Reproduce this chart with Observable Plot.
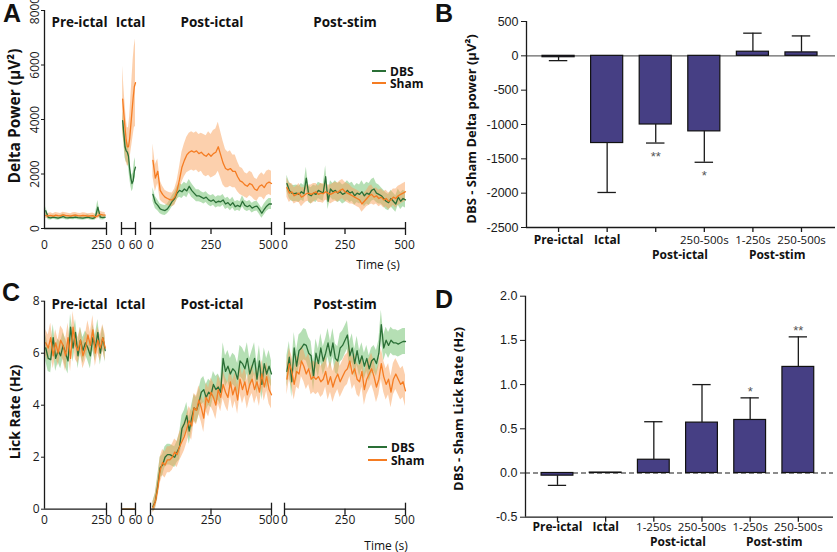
<!DOCTYPE html>
<html><head><meta charset="utf-8">
<script src="https://cdn.jsdelivr.net/npm/d3@7"></script>
<script src="https://cdn.jsdelivr.net/npm/@observablehq/plot@0.6"></script>
<style>
body{margin:0;background:#fff;}
#root{position:relative;width:837px;height:552px;overflow:hidden;background:#fff;font-family:"Open Sans",sans-serif;color:#111;}
</style></head><body><div id="root"></div>
<script>
// ---------- DATA ----------
const T_PRE = d3.range(5, 250, 10);     // s
const T_ICTAL = d3.range(5, 61, 5);     // s
const T_POST = d3.range(10, 501, 10);   // s

// Panel A: delta power (µV²)
const A_PRE_DBS = [650,410,390,420,400,380,410,440,400,390,410,400,420,400,390,380,400,420,390,370,410,780,420,400,420];
const A_PRE_DBS_SEM = [150,90,80,80,80,80,80,90,80,80,80,80,90,80,80,80,80,90,80,80,100,250,100,90,90];
const A_PRE_SHAM = [470,460,480,450,490,470,460,500,480,470,450,480,490,470,460,480,470,450,460,470,430,460,520,500,490];
const A_PRE_SHAM_SEM = [100,90,100,90,100,100,90,100,100,90,90,100,100,90,90,100,100,90,90,100,90,100,110,100,100];

const A_ICTAL_DBS = [3960,3500,3000,2850,2800,2650,2200,1850,1650,1750,2100,2250];
const A_ICTAL_DBS_SEM = [350,350,400,400,400,400,350,300,300,300,350,350];
const A_ICTAL_SHAM = [4750,4200,3700,3250,3000,3000,3300,3800,4300,4800,5200,5350];
const A_ICTAL_SHAM_SEM = [1200,1000,900,800,700,700,800,1000,1200,1400,1500,1600];

const A_POST_DBS = [1250,950,850,720,680,660,720,850,1000,1100,1300,1400,1350,1450,1380,1550,1400,1300,1200,1200,1150,1100,1150,1050,1000,1050,950,1000,980,1050,900,950,850,950,800,850,800,1000,850,800,850,750,800,820,700,560,700,820,900,900];
const A_POST_DBS_SEM = [250,220,200,180,180,180,180,200,200,220,230,250,250,250,250,250,250,230,220,220,200,200,200,200,200,200,200,200,200,200,200,200,200,200,180,180,180,200,180,180,180,180,180,180,180,180,200,200,200,200];
const A_POST_SHAM = [2500,1850,2100,1400,1250,1150,1100,1060,1050,1150,1400,1800,2250,2500,2700,2800,2850,2800,2850,2750,2800,2700,2650,2750,2650,2750,2800,3000,2700,2400,2200,2150,2200,2100,2100,1900,1750,1700,1600,1550,1650,1600,1450,1400,1550,1600,1500,1650,1700,1650];
const A_POST_SHAM_SEM = [600,500,450,350,300,250,250,250,250,300,350,450,550,600,650,700,700,700,700,700,700,750,750,800,800,850,850,900,850,800,700,650,650,600,600,550,500,500,450,450,450,450,400,400,400,450,450,450,450,450];

const A_STIM_DBS = [1650,1400,1300,1280,1300,1250,1350,1280,1850,1250,1200,1300,1250,1400,1350,1300,1900,1000,1450,1350,1400,1300,1350,1250,1300,1400,1300,1350,1200,1300,1250,1350,1200,1300,1250,1400,1450,1300,1250,1200,1100,1000,950,1100,1000,900,1150,1000,1100,1050];
const A_STIM_DBS_SEM = [300,300,300,300,300,300,300,300,400,300,300,300,300,300,300,300,400,300,300,300,350,350,350,350,350,350,350,350,350,350,350,400,400,400,400,400,400,350,350,300,300,300,300,300,300,300,300,300,300,300];
const A_STIM_SHAM = [1500,1300,1350,1200,1250,1300,1150,1200,1280,1300,1250,1300,1350,1250,1300,1280,1350,1300,1250,1300,1350,1320,1400,1450,1350,1300,1250,1200,1150,1100,1050,900,1000,1100,1200,1250,1150,1200,1100,1150,1050,1100,1000,1050,1150,1100,1200,1250,1300,1350];
const A_STIM_SHAM_SEM = [350,350,300,300,300,350,350,300,300,300,350,350,300,300,350,350,300,300,350,350,350,350,350,350,350,350,350,300,300,300,300,300,300,300,350,350,300,300,300,300,300,300,300,300,300,350,350,350,350,350];

// Panel C: lick rate (Hz)
const C_PRE_DBS = [6.2,5.8,5.75,6.6,5.8,6.1,5.9,6.3,6.0,5.7,7.0,6.2,6.8,5.9,6.5,6.1,6.4,6.2,5.9,6.6,6.2,6.8,6.0,6.6,6.1];
const C_PRE_DBS_SEM = [0.5,0.5,0.5,0.5,0.5,0.45,0.5,0.5,0.55,0.5,0.5,0.55,0.5,0.5,0.5,0.5,0.45,0.5,0.5,0.5,0.5,0.5,0.45,0.45,0.45];
const C_PRE_SHAM = [6.4,6.2,6.6,5.9,6.4,6.0,6.5,6.3,5.9,6.6,5.8,7.0,6.3,6.1,6.5,5.9,6.2,6.7,6.3,6.9,6.0,6.5,6.2,6.6,6.2];
const C_PRE_SHAM_SEM = [0.5,0.5,0.55,0.5,0.5,0.5,0.55,0.6,0.6,0.55,0.5,0.6,0.55,0.5,0.5,0.5,0.5,0.55,0.5,0.55,0.5,0.5,0.5,0.5,0.5];

const C_ICTAL_DBS = [0,0,0,0,0,0,0,0,0,0,0,0];
const C_ICTAL_DBS_SEM = [0,0,0,0,0,0,0,0,0,0,0,0];
const C_ICTAL_SHAM = [0,0,0,0,0,0,0,0,0,0,0,0];
const C_ICTAL_SHAM_SEM = [0,0,0,0,0,0,0,0,0,0,0,0];

const C_POST_DBS = [0.1,0.3,0.9,1.6,1.7,2.0,2.1,2.1,2.05,2.0,2.2,2.4,3.1,3.3,3.6,3.0,3.5,3.9,3.8,4.1,4.5,4.6,4.3,4.5,4.4,4.8,4.6,4.7,4.5,5.8,5.3,5.5,5.2,5.4,5.3,5.0,5.7,5.6,5.4,5.8,5.2,5.5,5.8,5.0,5.7,4.8,5.6,5.2,5.5,5.2];
const C_POST_DBS_SEM = [0.2,0.3,0.4,0.4,0.4,0.4,0.4,0.4,0.4,0.4,0.4,0.5,0.5,0.5,0.5,0.5,0.5,0.5,0.5,0.5,0.5,0.5,0.5,0.5,0.5,0.5,0.5,0.5,0.5,0.6,0.6,0.6,0.6,0.6,0.6,0.6,0.6,0.6,0.6,0.6,0.6,0.6,0.6,0.6,0.6,0.6,0.6,0.6,0.6,0.5];
const C_POST_SHAM = [0.05,0.3,0.8,1.5,1.8,1.7,1.9,1.9,2.0,2.2,2.1,2.4,2.6,2.8,3.1,3.4,3.2,3.9,3.8,4.2,3.9,3.5,4.3,4.1,4.5,4.3,4.0,4.6,4.3,4.8,4.5,4.3,4.9,4.4,4.7,4.2,5.0,4.6,4.9,4.4,4.8,5.0,4.6,4.9,4.5,5.2,4.7,5.1,4.6,4.4];
const C_POST_SHAM_SEM = [0.2,0.3,0.4,0.5,0.5,0.5,0.5,0.5,0.5,0.5,0.5,0.55,0.55,0.55,0.55,0.55,0.55,0.55,0.55,0.55,0.55,0.55,0.55,0.55,0.55,0.55,0.55,0.55,0.55,0.55,0.55,0.55,0.55,0.55,0.55,0.55,0.55,0.55,0.55,0.55,0.55,0.55,0.55,0.55,0.55,0.55,0.55,0.55,0.55,0.55];

const C_STIM_DBS = [5.3,5.85,4.9,6.2,5.5,6.1,6.2,6.35,6.3,6.0,5.9,5.1,6.0,5.6,6.2,5.7,6.0,6.4,5.9,6.4,5.8,5.7,6.2,6.3,6.5,6.7,5.9,6.2,5.6,6.1,5.6,5.9,5.5,5.8,5.4,5.7,5.8,5.6,6.0,7.1,6.2,6.5,6.3,6.5,6.4,6.4,6.35,6.4,6.45,6.45];
const C_STIM_DBS_SEM = [0.6,0.6,0.6,0.6,0.6,0.6,0.6,0.6,0.6,0.6,0.55,0.55,0.55,0.55,0.55,0.55,0.55,0.55,0.55,0.55,0.55,0.55,0.55,0.55,0.55,0.55,0.55,0.55,0.55,0.55,0.5,0.5,0.5,0.5,0.5,0.5,0.5,0.5,0.5,0.55,0.5,0.5,0.5,0.5,0.5,0.5,0.5,0.5,0.5,0.5];
const C_STIM_SHAM = [5.0,5.6,5.3,4.8,5.3,5.2,5.7,5.5,5.2,5.4,5.0,5.1,5.0,5.1,4.9,5.0,5.3,4.8,5.1,4.7,5.0,5.2,4.9,5.1,5.3,5.4,5.7,5.2,5.4,5.0,4.9,5.3,4.6,5.0,5.2,5.4,5.1,4.7,5.0,5.6,5.1,4.8,5.0,4.5,5.0,5.2,5.0,4.8,4.9,4.55];
const C_STIM_SHAM_SEM = [0.6,0.6,0.6,0.6,0.6,0.6,0.6,0.6,0.6,0.6,0.6,0.6,0.6,0.6,0.6,0.6,0.6,0.6,0.6,0.6,0.6,0.6,0.6,0.6,0.6,0.6,0.6,0.6,0.6,0.6,0.6,0.6,0.6,0.6,0.6,0.6,0.6,0.6,0.6,0.6,0.6,0.6,0.6,0.6,0.6,0.6,0.6,0.6,0.6,0.6];

// Panel B / D bar data
const BAR_LABELS_B = ["Pre-ictal","Ictal","","250-500s","1-250s","250-500s"];
const BAR_LABELS_D = ["Pre-ictal","Ictal","1-250s","250-500s","1-250s","250-500s"];
const BAR_BOLD = [true,true,false,false,false,false];
const GROUP_LABELS = ["Post-ictal","Post-stim"];
const B_VALUES = [-20,-1270,-1000,-1100,60,50];
const B_ERRORS = [50,720,270,450,270,240];
const B_STARS = ["","","**","*","",""];
const B_TICKS = [-2500,-2000,-1500,-1000,-500,0,500];
const D_VALUES = [-0.03,0.005,0.15,0.57,0.60,1.2];
const D_ERRORS = [0.11,0,0.43,0.43,0.25,0.34];
const D_STARS = ["","","","","*","**"];
const D_TICKS = [-0.5,0,0.5,1.0,1.5,2.0];
const A_TICKS = [0,2000,4000,6000,8000];
const C_TICKS = [0,2,4,6,8];

// ---------- STYLE ----------
const DBS_LINE = "#2a6f36", SHAM_LINE = "#f57c22";
const DBS_BAND = "#6cc06a", SHAM_BAND = "#f9a25c";
const BAR_FILL = "#463f84";
const INK = "#1a1a1a";

const root = document.getElementById("root");
function addText(txt, cx, cy, css, rotate) {
  const d = document.createElement("div");
  d.textContent = txt;
  d.style.cssText = `position:absolute;left:${cx}px;top:${cy}px;white-space:nowrap;line-height:1;transform:translate(-50%,-50%)${rotate ? " rotate(-90deg)" : ""};${css}`;
  root.appendChild(d);
}
function addLegend(x0, x1, yD, yS, tx, size) {
  [[yD, DBS_LINE, "DBS"], [yS, SHAM_LINE, "Sham"]].forEach(([y, c, t]) => {
    const l = document.createElement("div");
    l.style.cssText = `position:absolute;left:${x0}px;top:${Math.round(y) - 1}px;width:${x1 - x0}px;height:2px;background:${c};`;
    root.appendChild(l);
    const s = document.createElement("div");
    s.textContent = t;
    s.style.cssText = `position:absolute;left:${tx}px;top:${y}px;transform:translateY(-50%);line-height:0.85;font:bold ${size}px 'Open Sans';white-space:nowrap;`;
    root.appendChild(s);
  });
}

// layout of the four broken-axis segments (pixel extents, label nudges)
const SEGS = [
  {key: "PRE", title: "Pre-ictal", domain: [0, 250], px: [44, 106], labels: [0, 250], caps: [250], mids: [], dx: 4, lastDx: -5, t: T_PRE},
  {key: "ICTAL", title: "Ictal", domain: [0, 60], px: [121, 135], labels: [0, 60], caps: [0, 60], mids: [], dx: 2, lastDx: 0, t: T_ICTAL},
  {key: "POST", title: "Post-ictal", domain: [0, 500], px: [150, 271], labels: [0, 250, 500], caps: [0, 500], mids: [250], dx: 1, lastDx: -2.5, t: T_POST},
  {key: "STIM", title: "Post-stim", domain: [0, 500], px: [284, 405], labels: [0, 250, 500], caps: [0, 500], mids: [250], dx: 0, lastDx: -1, t: T_POST}
];
const SERIES = {
  A: {PRE: [A_PRE_DBS, A_PRE_DBS_SEM, A_PRE_SHAM, A_PRE_SHAM_SEM], ICTAL: [A_ICTAL_DBS, A_ICTAL_DBS_SEM, A_ICTAL_SHAM, A_ICTAL_SHAM_SEM], POST: [A_POST_DBS, A_POST_DBS_SEM, A_POST_SHAM, A_POST_SHAM_SEM], STIM: [A_STIM_DBS, A_STIM_DBS_SEM, A_STIM_SHAM, A_STIM_SHAM_SEM]},
  C: {PRE: [C_PRE_DBS, C_PRE_DBS_SEM, C_PRE_SHAM, C_PRE_SHAM_SEM], ICTAL: [C_ICTAL_DBS, C_ICTAL_DBS_SEM, C_ICTAL_SHAM, C_ICTAL_SHAM_SEM], POST: [C_POST_DBS, C_POST_DBS_SEM, C_POST_SHAM, C_POST_SHAM_SEM], STIM: [C_STIM_DBS, C_STIM_DBS_SEM, C_STIM_SHAM, C_STIM_SHAM_SEM]}
};

function timePanel(cfg) {
  const W = 420;
  SEGS.forEach((seg, k) => {
    const [dbs, dbsS, sham, shamS] = SERIES[cfg.key][seg.key];
    const rd = seg.t.map((t, i) => ({t, v: dbs[i], s: dbsS[i]}));
    const rs = seg.t.map((t, i) => ({t, v: sham[i], s: shamS[i]}));
    const y0 = cfg.yDomain[0];
    const lastLabel = seg.labels[seg.labels.length - 1];
    const labelOpts = {x: d => d, text: d => String(d), frameAnchor: "bottom", lineAnchor: "top", dy: cfg.xPad, fontSize: 12, fill: INK};
    const marks = [
      Plot.areaY(rd, {x: "t", y1: d => d.v - d.s, y2: d => d.v + d.s, fill: DBS_BAND, fillOpacity: 0.5}),
      Plot.areaY(rs, {x: "t", y1: d => d.v - d.s, y2: d => d.v + d.s, fill: SHAM_BAND, fillOpacity: 0.5}),
      Plot.line(rd, {x: "t", y: "v", stroke: DBS_LINE, strokeWidth: 1.3}),
      Plot.line(rs, {x: "t", y: "v", stroke: SHAM_LINE, strokeWidth: 1.3}),
      Plot.ruleY([y0], {stroke: INK, strokeWidth: 1.3}),
      Plot.ruleX(seg.caps, {x: d => d, y1: y0, y2: y0, insetTop: -6, insetBottom: -7, stroke: INK, strokeWidth: 1.3}),
      Plot.ruleX(seg.mids, {x: d => d, y1: y0, y2: y0, insetTop: 0, insetBottom: -6, stroke: INK, strokeWidth: 1.3}),
      Plot.text(seg.labels.filter(d => d !== lastLabel), labelOpts),
      Plot.text([lastLabel], {...labelOpts, dx: seg.lastDx}),
      Plot.text([seg.title], {frameAnchor: "top", dy: cfg.titleDy, dx: seg.dx, text: d => d, fontWeight: "bold", fontSize: 13.5, fill: "#111"})
    ];
    if (k === 0) {
      marks.push(Plot.ruleX([seg.domain[0]], {stroke: INK, strokeWidth: 1.3}));
      marks.push(Plot.axisY({ticks: cfg.yTicks, tickSize: 3, tickPadding: cfg.yPad, tickRotate: cfg.yRotate, tickFormat: d => String(d), label: null, fill: INK, stroke: INK, fontSize: 12}));
    }
    const svg = Plot.plot({
      width: W, height: cfg.height,
      marginLeft: seg.px[0], marginRight: W - seg.px[1],
      marginTop: cfg.mTop, marginBottom: cfg.mBottom,
      x: {domain: seg.domain, axis: null},
      y: {domain: cfg.yDomain, axis: null},
      style: `position:absolute;left:0;top:${cfg.top}px;overflow:visible;background:transparent;font-family:'Open Sans';font-size:12px;color:${INK};`,
      marks
    });
    root.appendChild(svg);
  });
}

timePanel({key: "A", top: 0, height: 270, mTop: 10, mBottom: 42, yDomain: [0, 8000], yTicks: A_TICKS, yRotate: -90, yPad: 3, xPad: 12, titleDy: 6.5});
timePanel({key: "C", top: 280, height: 272, mTop: 20.7, mBottom: 43.3, yDomain: [0, 8], yTicks: C_TICKS, yRotate: 0, yPad: 2, xPad: 6, titleDy: -2});

function barPanel(cfg) {
  const rows = cfg.values.map((v, k) => ({
    i: k + 1, v, e: cfg.errs[k],
    end: v + (v < 0 ? -1 : 1) * cfg.errs[k],
    label: cfg.labels[k], bold: BAR_BOLD[k], star: cfg.stars[k]
  }));
  const groups = GROUP_LABELS.map((name, g) => ({name, x: 3.5 + 2 * g}));
  const yMin = cfg.yDomain[0];
  const withErr = rows.filter(d => d.e > 0);
  const svg = Plot.plot({
    width: 417, height: cfg.height,
    marginLeft: cfg.ml, marginRight: cfg.mr, marginTop: cfg.mTop, marginBottom: cfg.mBottom,
    x: {domain: cfg.xDomain, axis: null},
    y: {domain: cfg.yDomain, axis: null},
    style: `position:absolute;left:420px;top:${cfg.top}px;overflow:visible;background:transparent;font-family:'Liberation Sans',Arial,sans-serif;font-size:12.5px;`,
    marks: [
      Plot.ruleY([0], cfg.dashed ? {stroke: INK, strokeWidth: 1.2, strokeDasharray: "5,3"} : {stroke: "#666", strokeWidth: 1.2}),
      Plot.rect(rows, {x1: d => d.i - 0.33, x2: d => d.i + 0.33, y1: 0, y2: "v", fill: BAR_FILL, stroke: "#111", strokeWidth: 1.2}),
      Plot.ruleX(withErr, {x: "i", y1: "v", y2: "end", stroke: INK, strokeWidth: 1.3}),
      Plot.ruleY(withErr, {y: "end", x1: d => d.i - 0.19, x2: d => d.i + 0.19, stroke: INK, strokeWidth: 1.3}),
      Plot.ruleX([cfg.xDomain[0]], {stroke: INK, strokeWidth: 1.3}),
      Plot.ruleY([yMin], {stroke: INK, strokeWidth: 1.3}),
      Plot.ruleX(rows, {x: "i", y1: yMin, y2: yMin, insetBottom: -5, stroke: INK, strokeWidth: 1.3}),
      Plot.axisY({ticks: cfg.yTicks, tickSize: 5, tickPadding: 3, tickFormat: cfg.fmt, label: null, fill: INK, stroke: INK}),
      Plot.text(rows.filter(d => d.bold), {x: "i", text: "label", frameAnchor: "bottom", dy: cfg.labelDy, fontWeight: "bold", fontFamily: "Open Sans", fontSize: 12, fill: "#111"}),
      Plot.text(rows.filter(d => !d.bold && d.label), {x: "i", text: "label", frameAnchor: "bottom", dy: cfg.labelDy, fontFamily: "Open Sans", fontSize: 11.5, letterSpacing: "-0.2px", fill: "#111"}),
      Plot.text(groups, {x: "x", text: "name", frameAnchor: "bottom", dy: cfg.groupDy, fontWeight: "bold", fontFamily: "Open Sans", fontSize: 12, fill: "#111"}),
      Plot.text(rows.filter(d => d.star), {x: "i", y: "end", text: "star", dy: cfg.starDy, fontSize: 13, fill: "#555"})
    ]
  });
  root.appendChild(svg);
}

barPanel({top: 0, height: 270, ml: 106, mr: 2, mTop: 21, mBottom: 43, xDomain: [0.34, 6.70], yDomain: [-2500, 500], yTicks: B_TICKS, fmt: d => String(d), values: B_VALUES, errs: B_ERRORS, stars: B_STARS, labels: BAR_LABELS_B, labelDy: 16, groupDy: 31, starDy: 14, dashed: false});
barPanel({top: 280, height: 272, ml: 105, mr: 4, mTop: 15.7, mBottom: 35.3, xDomain: [0.336, 6.73], yDomain: [-0.5, 2.0], yTicks: D_TICKS, fmt: d => d.toFixed(1), values: D_VALUES, errs: D_ERRORS, stars: D_STARS, labels: BAR_LABELS_D, labelDy: 13.5, groupDy: 28.5, starDy: -6, dashed: true});

// ---------- TEXT ----------
const LETTER = "font:bold 25px 'Liberation Sans',Arial,sans-serif;";
addText("A", 12, 13, LETTER);
addText("B", 444, 13, LETTER);
addText("C", 11, 292, LETTER);
addText("D", 444, 299, LETTER);
addText("Delta Power (μV²)", 14, 116, "font:bold 15.5px 'Open Sans';", true);
addText("Lick Rate (Hz)", 14, 412, "font:bold 14px 'Open Sans';", true);
addText("DBS - Sham Delta power (μV²)", 471, 129, "font:bold 13px 'Open Sans';", true);
addText("DBS - Sham Lick Rate (Hz)", 458, 409, "font:bold 13px 'Open Sans';", true);
addText("Time (s)", 378, 264, "font:12px 'Open Sans';");
addText("Time (s)", 386, 545, "font:12px 'Open Sans';");
addLegend(372, 386, 70.7, 83, 390, 12);
addLegend(368, 387, 446.7, 460, 391, 12);
</script></body></html>
